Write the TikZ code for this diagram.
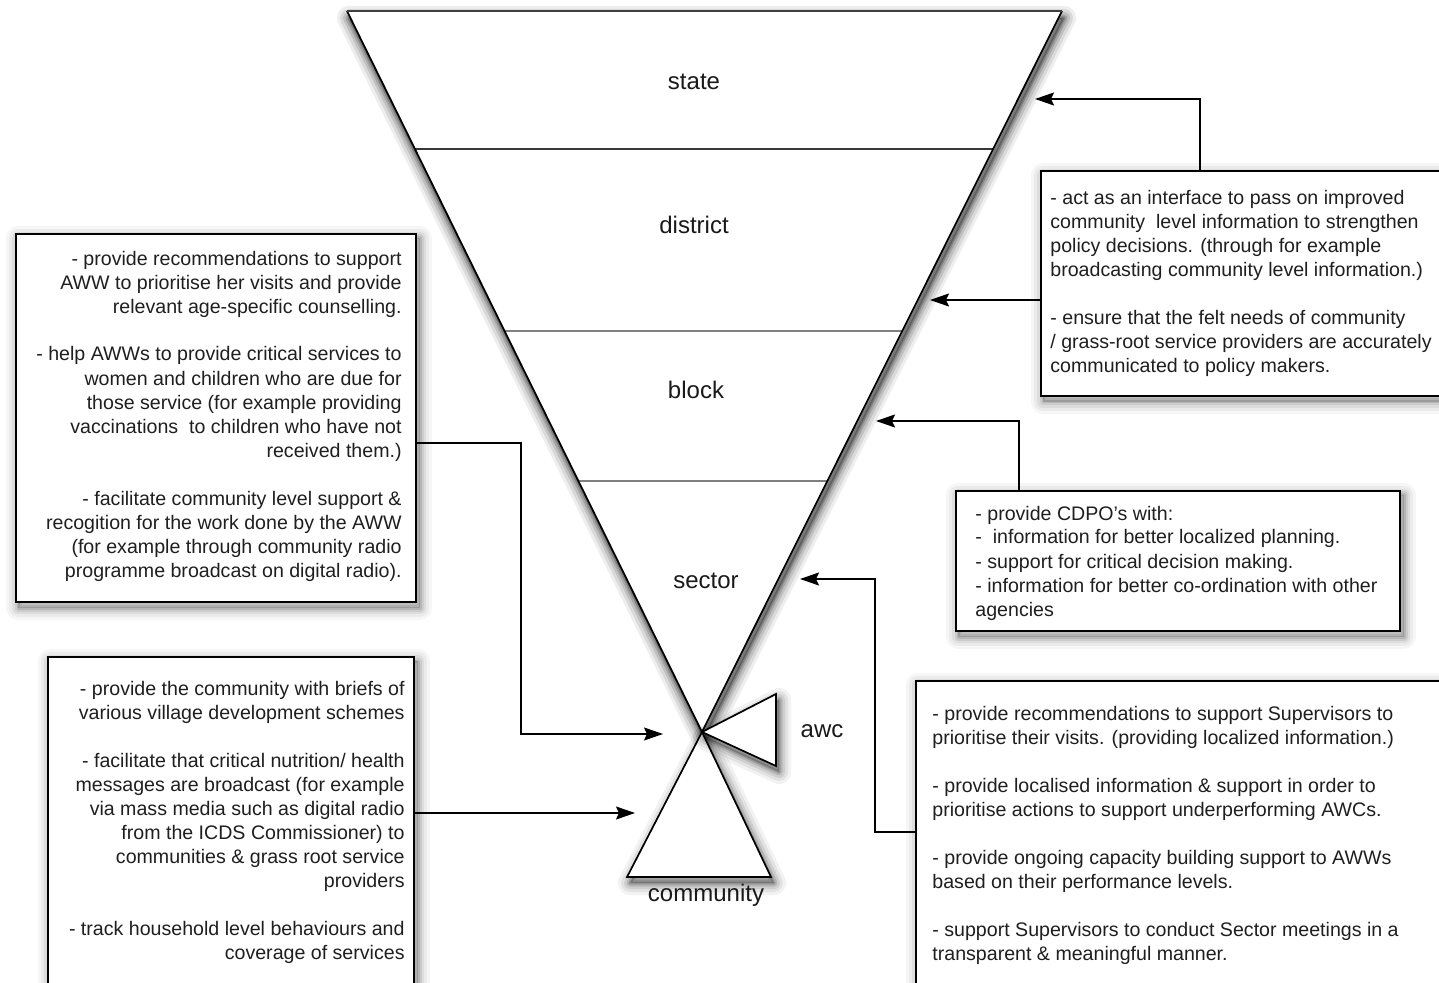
\documentclass[tikz,border=0pt]{standalone}
\usepackage{fontspec}
\setmainfont{Liberation Sans}
\usetikzlibrary{arrows.meta,calc,backgrounds}

% soft, blurred shadow of a closed path: stacked translucent strokes plus a fill;
% the optional argument scales the darkness
\newcommand{\softshade}[2][1]{%
  \foreach \w/\o in {12/0.035,9/0.045,6/0.06,3.5/0.08,1.5/0.11}{%
    \draw[black, line width=\w pt, opacity=#1*\o, line join=round] #2;}%
  \fill[black, opacity=#1*0.14] #2;}

\begin{document}
\begin{tikzpicture}[x=0.5pt,y=-0.5pt,
  box/.style={draw=black, line width=1pt, fill=white, inner sep=0pt},
  txt/.style={inner sep=0pt, font=\fontsize{9.8}{12}\selectfont, text=black!88},
  arr/.style={draw=black, line width=0.8pt,
    -{Stealth[length=9.5pt,width=6.5pt,inset=1.5pt]}},
  lvl/.style={font=\fontsize{12}{14}\selectfont, text=black!90},
  edge/.style={line width=0.85pt, line join=miter},
  rung/.style={line width=1pt, draw=black!50}]

\useasboundingbox (0,0) rectangle (1439,983);
\clip (0,0) rectangle (1439,983);

% ---------- inverted triangle of administrative levels ----------
\coordinate (T1) at (347,11);
\coordinate (T2) at (1062,11);
\coordinate (T0) at (702,732);

\begin{scope}[transform canvas={shift={(1pt,-3.5pt)}}]
  \softshade[1.9]{(T1) -- (T2) -- (T0) -- cycle}
\end{scope}
\fill[white] (T1) -- (T2) -- (T0) -- cycle;
\draw[rung, draw=black!78] ($(T1)!0.1914!(T0)$) -- ($(T2)!0.1914!(T0)$);
\draw[rung] ($(T1)!0.4438!(T0)$) -- ($(T2)!0.4438!(T0)$);
\draw[rung] ($(T1)!0.6519!(T0)$) -- ($(T2)!0.6519!(T0)$);
\draw[edge] (T1) -- (T0) -- (T2);
\draw[line width=1.4pt, black!75] (T1) -- (T2);

% ---------- community triangle ----------
\coordinate (C1) at (627,877);
\coordinate (C2) at (771,877);
\begin{scope}[transform canvas={shift={(1.5pt,-3pt)}}]
  \softshade[1.5]{(T0) -- (C2) -- (C1) -- cycle}
\end{scope}
\filldraw[fill=white, edge] (T0) -- (C2) -- (C1) -- cycle;

% ---------- awc triangle ----------
\coordinate (A1) at (776,694);
\coordinate (A2) at (776,766);
\begin{scope}[transform canvas={shift={(1.5pt,-3pt)}}]
  \softshade[1.5]{(T0) -- (A1) -- (A2) -- cycle}
\end{scope}
\filldraw[fill=white, edge] (T0) -- (A1) -- (A2) -- cycle;

% ---------- level labels ----------
\node[lvl] (state) at (694,82) {state};
\node[lvl] (district) at (694,225) {district};
\node[lvl] (block) at (696,390) {block};
\node[lvl] (sector) at (706,581) {sector};
\node[lvl] (awc) at (822,731) {awc};
\node[lvl] (community) at (706,895) {community};

% ---------- boxes ----------
\node[box, anchor=north west, minimum width=420pt, minimum height=112.5pt] (rt) at (1040,170) {};
\node[box, anchor=north west, minimum width=222pt, minimum height=70pt] (cdpo) at (955,490) {};
\node[box, anchor=north west, minimum width=300pt, minimum height=170pt] (sup) at (915,680) {};
\node[box, anchor=north west, minimum width=200pt, minimum height=184pt] (aww) at (15,233) {};
\node[box, anchor=north west, minimum width=183pt, minimum height=170pt] (comm) at (47,656) {};

% box shadows, beneath everything
\begin{scope}[on background layer]
  \foreach \b in {rt,cdpo,sup,aww,comm}{
    \begin{scope}[transform canvas={shift={(1.5pt,-2.5pt)}}]
      \softshade{(\b.north west) rectangle (\b.south east)}
    \end{scope}}
\end{scope}

% ---------- box texts (anchored on the last baseline) ----------
\node[txt, anchor=base west, align=left] (rtText) at ($(rt.north west)+(10,203)$)
  {- act as an interface to pass on improved\\
   community\ \ level information to strengthen\\
   policy decisions. (through for example\\
   broadcasting community level information.)\\[12pt]
   - ensure that the felt needs of community\\
   / grass-root service providers are accurately\\
   communicated to policy makers.};

\node[txt, anchor=base west, align=left] (cdpoText) at ($(cdpo.north west)+(20,126)$)
  {- provide CDPO's with:\\
   -\ \ information for better localized planning.\\
   - support for critical decision making.\\
   - information for better co-ordination with other\\
   agencies};

\node[txt, anchor=base west, align=left] (supText) at ($(sup.north west)+(17,280)$)
  {- provide recommendations to support Supervisors to\\
   prioritise their visits. (providing localized information.)\\[12pt]
   - provide localised information \& support in order to\\
   prioritise actions to support underperforming AWCs.\\[12pt]
   - provide ongoing capacity building support to AWWs\\
   based on their performance levels.\\[12pt]
   - support Supervisors to conduct Sector meetings in a\\
   transparent \& meaningful manner.};

\node[txt, anchor=base east, align=right] (awwText) at ($(aww.north east)+(-15,344)$)
  {- provide recommendations to support\\
   AWW to prioritise her visits and provide\\
   relevant age-specific counselling.\hspace*{3.5pt}\\[12pt]
   - help AWWs to provide critical services to\\
   women and children who are due for\\
   those service (for example providing\\
   vaccinations\ \ to children who have not\\
   received them.)\\[12pt]
   - facilitate community level support \&\\
   recogition for the work done by the AWW\\
   (for example through community radio\\
   programme broadcast on digital radio).};

\node[txt, anchor=base east, align=right] (commText) at ($(comm.north east)+(-10,303)$)
  {- provide the community with briefs of\\
   various village development schemes\\[12pt]
   - facilitate that critical nutrition/ health\\
   messages are broadcast (for example\\
   via mass media such as digital radio\\
   from the ICDS Commissioner) to\\
   communities \& grass root service\\
   providers\\[12pt]
   - track household level behaviours and\\
   coverage of services};

% ---------- connectors ----------
\coordinate (aState) at (1035,99);
\coordinate (aDistrict) at (930,300);
\coordinate (aBlock) at (876,421);
\coordinate (aSector) at (800,579);
\coordinate (kSup) at (875,832);
\coordinate (aAwc) at (663,734);
\coordinate (kAww) at (521,443);
\coordinate (aComm) at (635,813);

\draw[arr] ($(rt.north west)+(160,0)$) |- (aState);
\draw[arr] (rt.west |- aDistrict) -- (aDistrict);
\draw[arr] ($(cdpo.north west)+(64,0)$) |- (aBlock);
\draw[arr] (sup.west |- kSup) -- (kSup) |- (aSector);
\draw[arr] (aww.east |- kAww) -- (kAww) |- (aAwc);
\draw[arr] (comm.east |- aComm) -- (aComm);

\end{tikzpicture}
\end{document}
